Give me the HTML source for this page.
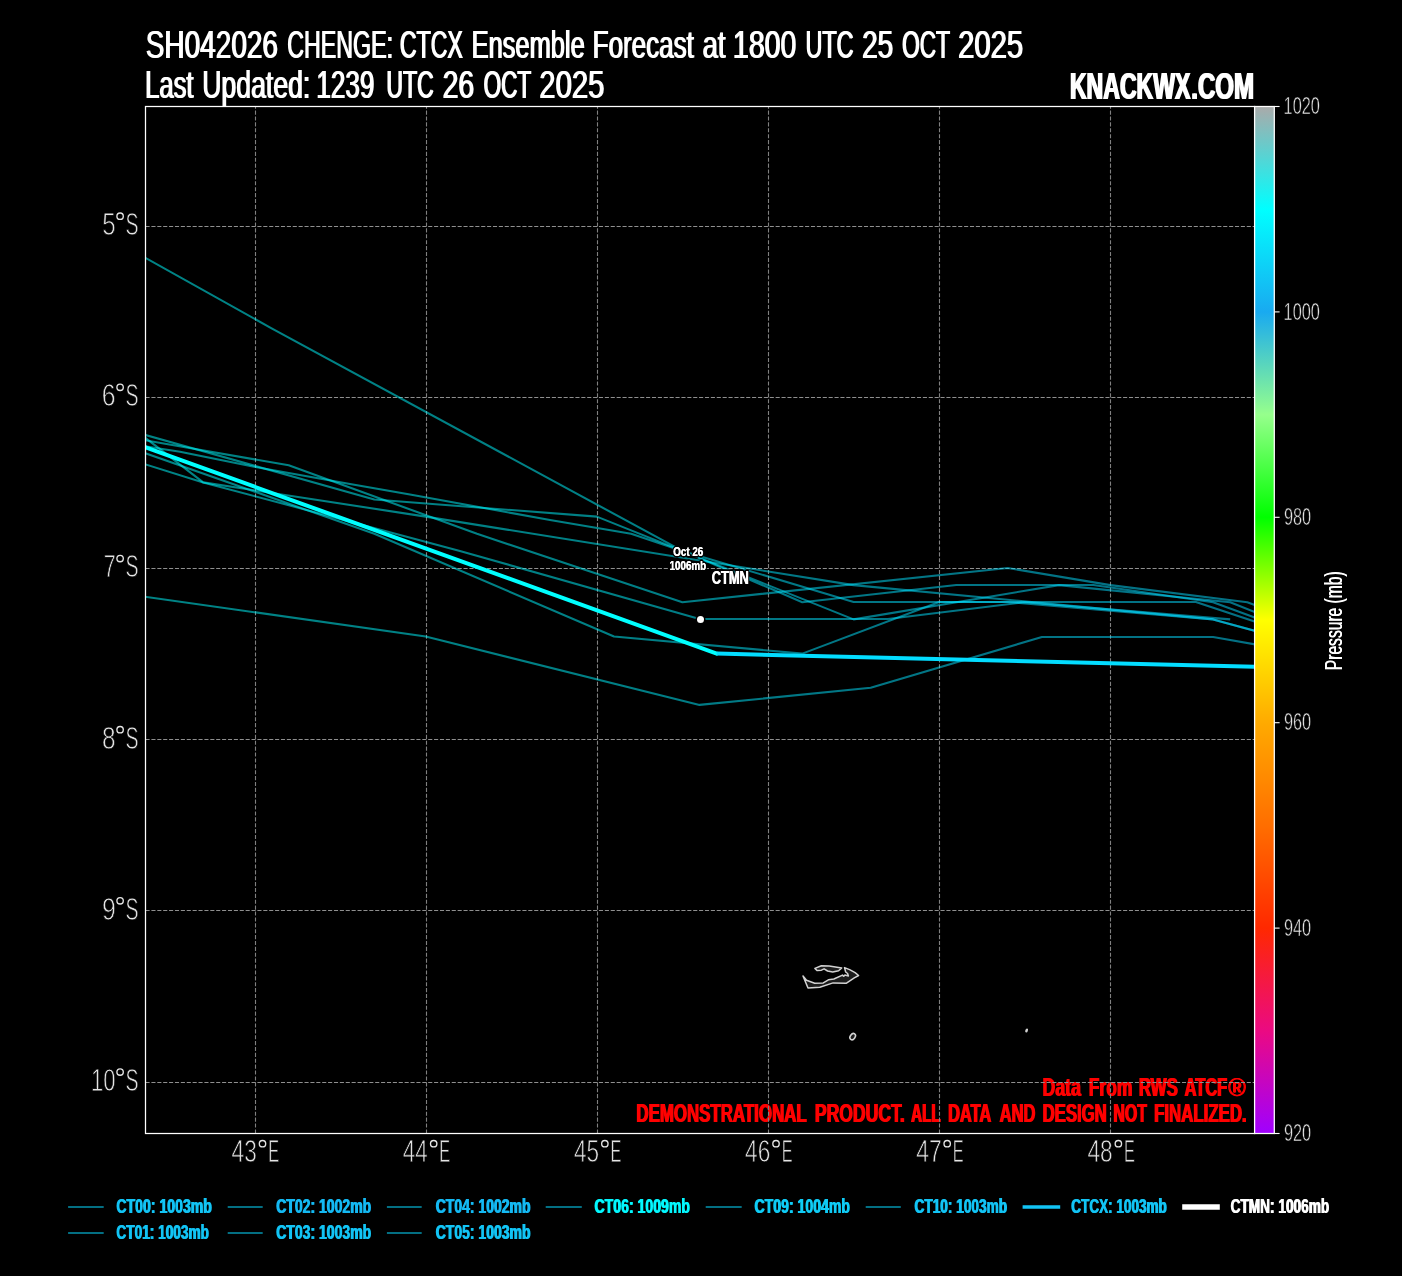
<!DOCTYPE html>
<html><head><meta charset="utf-8"><title>CTCX Ensemble Forecast</title>
<style>html,body{margin:0;padding:0;background:#000;}body{width:1402px;height:1276px;overflow:hidden;font-family:"Liberation Sans",sans-serif;}svg{display:block;will-change:transform;}</style></head>
<body>
<svg width="1402" height="1276" viewBox="0 0 1402 1276" font-family="'Liberation Sans', sans-serif">
<defs>
<clipPath id="pc"><rect x="145.5" y="106.5" width="1109.1" height="1027.0"/></clipPath>
<linearGradient id="cb" x1="0" y1="0" x2="0" y2="1">
<stop offset="0.000" stop-color="#AAAAAA"/>
<stop offset="0.100" stop-color="#00FFFF"/>
<stop offset="0.200" stop-color="#19AAF0"/>
<stop offset="0.300" stop-color="#96FF8C"/>
<stop offset="0.400" stop-color="#00FF00"/>
<stop offset="0.500" stop-color="#FFFF00"/>
<stop offset="0.600" stop-color="#FFAA00"/>
<stop offset="0.700" stop-color="#FF6E00"/>
<stop offset="0.800" stop-color="#FF2800"/>
<stop offset="0.900" stop-color="#EB0A82"/>
<stop offset="1.000" stop-color="#A000FF"/>
</linearGradient>
<linearGradient id="tg" gradientUnits="userSpaceOnUse" x1="145" y1="0" x2="1254" y2="0"><stop offset="0" stop-color="#00fbff"/><stop offset="0.42" stop-color="#00f4ff"/><stop offset="0.58" stop-color="#02e4ff"/><stop offset="1" stop-color="#06d6fd"/></linearGradient>
</defs>
<rect width="1402" height="1276" fill="#000"/>
<g clip-path="url(#pc)">
<polygon points="803.0,975.9 806.5,980.2 814.7,983.3 823.3,982.9 828.4,979.8 833.9,979.0 842.5,975.1 843.7,976.3 844.9,975.1 848.4,975.9 847.6,973.5 845.7,972.0 844.5,967.6 849.6,969.6 855.1,972.7 858.6,975.5 854.3,977.8 846.1,983.3 833.1,982.9 819.8,987.2 808.0,988.0" fill="#1c1c1c" stroke="#d2d2d2" stroke-width="1.5" stroke-linejoin="round"/>
<polygon points="814.9,968.4 821.4,965.7 829.2,966.1 841.7,968.0 838.6,970.8 832.7,972.0 827.6,971.0 824.1,968.8 821.4,970.2 817.0,970.5" fill="#1c1c1c" stroke="#d2d2d2" stroke-width="1.5" stroke-linejoin="round"/>
<ellipse cx="852.7" cy="1036.6" rx="2.4" ry="3.4" transform="rotate(35 852.7 1036.6)" fill="#1c1c1c" stroke="#d2d2d2" stroke-width="1.5"/>
<ellipse cx="1026.6" cy="1030.5" rx="1.3" ry="2.1" transform="rotate(20 1026.6 1030.5)" fill="#d0d0d0"/>
<text x="1041.90" y="1095.80" font-size="25.58" font-weight="bold" fill="#ff0000" textLength="38.41" lengthAdjust="spacingAndGlyphs">Data</text>
<text x="1043.10" y="1095.80" font-size="25.58" font-weight="bold" fill="#ff0000" textLength="38.41" lengthAdjust="spacingAndGlyphs">Data</text>
<text x="1088.17" y="1095.80" font-size="25.58" font-weight="bold" fill="#ff0000" textLength="43.67" lengthAdjust="spacingAndGlyphs">From</text>
<text x="1089.37" y="1095.80" font-size="25.58" font-weight="bold" fill="#ff0000" textLength="43.67" lengthAdjust="spacingAndGlyphs">From</text>
<text x="1138.26" y="1095.80" font-size="25.58" font-weight="bold" fill="#ff0000" textLength="39.01" lengthAdjust="spacingAndGlyphs">RWS</text>
<text x="1139.46" y="1095.80" font-size="25.58" font-weight="bold" fill="#ff0000" textLength="39.01" lengthAdjust="spacingAndGlyphs">RWS</text>
<text x="1184.09" y="1095.80" font-size="25.58" font-weight="bold" fill="#ff0000" textLength="42.51" lengthAdjust="spacingAndGlyphs">ATCF</text>
<text x="1185.29" y="1095.80" font-size="25.58" font-weight="bold" fill="#ff0000" textLength="42.51" lengthAdjust="spacingAndGlyphs">ATCF</text>
<text x="1227.64" y="1095.80" font-size="25.58" font-weight="bold" fill="#ff0000" textLength="17.60" lengthAdjust="spacingAndGlyphs">®</text>
<text x="1228.84" y="1095.80" font-size="25.58" font-weight="bold" fill="#ff0000" textLength="17.60" lengthAdjust="spacingAndGlyphs">®</text>
<text x="635.76" y="1121.85" font-size="25.58" font-weight="bold" fill="#ff0000" textLength="170.38" lengthAdjust="spacingAndGlyphs">DEMONSTRATIONAL</text>
<text x="636.96" y="1121.85" font-size="25.58" font-weight="bold" fill="#ff0000" textLength="170.38" lengthAdjust="spacingAndGlyphs">DEMONSTRATIONAL</text>
<text x="814.21" y="1121.85" font-size="25.58" font-weight="bold" fill="#ff0000" textLength="89.90" lengthAdjust="spacingAndGlyphs">PRODUCT.</text>
<text x="815.41" y="1121.85" font-size="25.58" font-weight="bold" fill="#ff0000" textLength="89.90" lengthAdjust="spacingAndGlyphs">PRODUCT.</text>
<text x="910.52" y="1121.85" font-size="25.58" font-weight="bold" fill="#ff0000" textLength="29.45" lengthAdjust="spacingAndGlyphs">ALL</text>
<text x="911.72" y="1121.85" font-size="25.58" font-weight="bold" fill="#ff0000" textLength="29.45" lengthAdjust="spacingAndGlyphs">ALL</text>
<text x="947.49" y="1121.85" font-size="25.58" font-weight="bold" fill="#ff0000" textLength="43.14" lengthAdjust="spacingAndGlyphs">DATA</text>
<text x="948.69" y="1121.85" font-size="25.58" font-weight="bold" fill="#ff0000" textLength="43.14" lengthAdjust="spacingAndGlyphs">DATA</text>
<text x="998.99" y="1121.85" font-size="25.58" font-weight="bold" fill="#ff0000" textLength="35.90" lengthAdjust="spacingAndGlyphs">AND</text>
<text x="1000.19" y="1121.85" font-size="25.58" font-weight="bold" fill="#ff0000" textLength="35.90" lengthAdjust="spacingAndGlyphs">AND</text>
<text x="1041.97" y="1121.85" font-size="25.58" font-weight="bold" fill="#ff0000" textLength="64.25" lengthAdjust="spacingAndGlyphs">DESIGN</text>
<text x="1043.17" y="1121.85" font-size="25.58" font-weight="bold" fill="#ff0000" textLength="64.25" lengthAdjust="spacingAndGlyphs">DESIGN</text>
<text x="1112.83" y="1121.85" font-size="25.58" font-weight="bold" fill="#ff0000" textLength="33.55" lengthAdjust="spacingAndGlyphs">NOT</text>
<text x="1114.03" y="1121.85" font-size="25.58" font-weight="bold" fill="#ff0000" textLength="33.55" lengthAdjust="spacingAndGlyphs">NOT</text>
<text x="1153.46" y="1121.85" font-size="25.58" font-weight="bold" fill="#ff0000" textLength="92.57" lengthAdjust="spacingAndGlyphs">FINALIZED.</text>
<text x="1154.66" y="1121.85" font-size="25.58" font-weight="bold" fill="#ff0000" textLength="92.57" lengthAdjust="spacingAndGlyphs">FINALIZED.</text>
<line x1="255.5" y1="1133.5" x2="255.5" y2="106.5" stroke="#808080" stroke-width="1.1" stroke-dasharray="4.111 1.778"/>
<line x1="426.5" y1="1133.5" x2="426.5" y2="106.5" stroke="#808080" stroke-width="1.1" stroke-dasharray="4.111 1.778"/>
<line x1="597.5" y1="1133.5" x2="597.5" y2="106.5" stroke="#808080" stroke-width="1.1" stroke-dasharray="4.111 1.778"/>
<line x1="768.5" y1="1133.5" x2="768.5" y2="106.5" stroke="#808080" stroke-width="1.1" stroke-dasharray="4.111 1.778"/>
<line x1="939.5" y1="1133.5" x2="939.5" y2="106.5" stroke="#808080" stroke-width="1.1" stroke-dasharray="4.111 1.778"/>
<line x1="1110.5" y1="1133.5" x2="1110.5" y2="106.5" stroke="#808080" stroke-width="1.1" stroke-dasharray="4.111 1.778"/>
<line x1="145.5" y1="1082.5" x2="1254.6" y2="1082.5" stroke="#8f8f8f" stroke-width="1.1" stroke-dasharray="4.111 1.778"/>
<line x1="145.5" y1="910.5" x2="1254.6" y2="910.5" stroke="#8f8f8f" stroke-width="1.1" stroke-dasharray="4.111 1.778"/>
<line x1="145.5" y1="739.5" x2="1254.6" y2="739.5" stroke="#8f8f8f" stroke-width="1.1" stroke-dasharray="4.111 1.778"/>
<line x1="145.5" y1="568.5" x2="1254.6" y2="568.5" stroke="#8f8f8f" stroke-width="1.1" stroke-dasharray="4.111 1.778"/>
<line x1="145.5" y1="397.5" x2="1254.6" y2="397.5" stroke="#8f8f8f" stroke-width="1.1" stroke-dasharray="4.111 1.778"/>
<line x1="145.5" y1="226.5" x2="1254.6" y2="226.5" stroke="#8f8f8f" stroke-width="1.1" stroke-dasharray="4.111 1.778"/>
<polyline points="100.0,232.4 271.6,328.4 682.4,550.9 802.3,602.2 956.3,585.0 1093.2,585.0 1213.1,602.2 1300.0,634.3" fill="none" stroke="url(#tg)" stroke-opacity="0.52" stroke-width="2.08" stroke-linejoin="round"/>
<polyline points="100.0,422.2 374.3,499.5 596.8,516.6 682.4,550.9 853.6,619.4 1059.0,585.1 1230.2,602.2 1300.0,629.9" fill="none" stroke="url(#tg)" stroke-opacity="0.52" stroke-width="2.08" stroke-linejoin="round"/>
<polyline points="100.0,439.2 180.0,451.7 255.3,467.0 350.0,484.1 410.0,494.5 550.0,520.0 631.1,533.8 682.4,550.9 853.6,602.0 1195.9,602.0 1300.0,636.4" fill="none" stroke="url(#tg)" stroke-opacity="0.52" stroke-width="2.08" stroke-linejoin="round"/>
<polyline points="100.0,432.4 288.7,465.3 477.0,533.8 682.4,602.2 1007.7,568.0 1110.4,585.1 1247.3,602.2 1300.0,622.2" fill="none" stroke="url(#tg)" stroke-opacity="0.52" stroke-width="2.08" stroke-linejoin="round"/>
<polyline points="100.0,403.0 203.2,482.4 425.7,516.6 853.6,585.1 1213.1,619.4 1300.0,643.3" fill="none" stroke="url(#tg)" stroke-opacity="0.52" stroke-width="2.08" stroke-linejoin="round"/>
<polyline points="100.0,450.2 203.2,482.4 459.9,550.9 699.5,619.0 887.8,619.0 1024.8,602.2 1230.2,619.4" fill="none" stroke="url(#tg)" stroke-opacity="0.52" stroke-width="2.08" stroke-linejoin="round"/>
<polyline points="100.0,437.2 374.3,533.8 614.0,636.5 802.3,653.6 939.2,602.0 1007.7,602.0 1213.1,619.4 1300.0,643.3" fill="none" stroke="url(#tg)" stroke-opacity="0.52" stroke-width="2.08" stroke-linejoin="round"/>
<polyline points="100.0,590.3 425.7,636.5 699.5,704.9 870.7,687.8 1041.9,637.0 1213.1,637.0 1300.0,652.2" fill="none" stroke="url(#tg)" stroke-opacity="0.52" stroke-width="2.08" stroke-linejoin="round"/>
<polyline points="100,430.9 716.7,653.6" fill="none" stroke="#00ffff" stroke-width="4.0" stroke-linecap="round"/>
<polyline points="716.7,653.6 1300,667.8" fill="none" stroke="#03dcff" stroke-width="4.0" stroke-linecap="butt"/>
<circle cx="700.5" cy="619.5" r="5" fill="#000"/>
<circle cx="700.5" cy="619.5" r="3.5" fill="#fff"/>
</g>
<text x="673.11" y="556.10" font-size="12.35" font-weight="bold" fill="none" stroke="#000" stroke-width="3.00" stroke-linejoin="round" textLength="29.96" lengthAdjust="spacingAndGlyphs">Oct 26</text>
<text x="673.51" y="556.10" font-size="12.35" font-weight="bold" fill="none" stroke="#000" stroke-width="3.00" stroke-linejoin="round" textLength="29.96" lengthAdjust="spacingAndGlyphs">Oct 26</text>
<text x="673.11" y="556.10" font-size="12.35" font-weight="bold" fill="#fff" textLength="29.96" lengthAdjust="spacingAndGlyphs">Oct 26</text>
<text x="673.51" y="556.10" font-size="12.35" font-weight="bold" fill="#fff" textLength="29.96" lengthAdjust="spacingAndGlyphs">Oct 26</text>
<text x="669.39" y="569.70" font-size="12.50" font-weight="bold" fill="none" stroke="#000" stroke-width="3.00" stroke-linejoin="round" textLength="36.50" lengthAdjust="spacingAndGlyphs">1006mb</text>
<text x="669.79" y="569.70" font-size="12.50" font-weight="bold" fill="none" stroke="#000" stroke-width="3.00" stroke-linejoin="round" textLength="36.50" lengthAdjust="spacingAndGlyphs">1006mb</text>
<text x="669.39" y="569.70" font-size="12.50" font-weight="bold" fill="#fff" textLength="36.50" lengthAdjust="spacingAndGlyphs">1006mb</text>
<text x="669.79" y="569.70" font-size="12.50" font-weight="bold" fill="#fff" textLength="36.50" lengthAdjust="spacingAndGlyphs">1006mb</text>
<text x="711.38" y="583.90" font-size="18.17" font-weight="bold" fill="none" stroke="#000" stroke-width="3.00" stroke-linejoin="round" textLength="37.19" lengthAdjust="spacingAndGlyphs">CTMN</text>
<text x="711.98" y="583.90" font-size="18.17" font-weight="bold" fill="none" stroke="#000" stroke-width="3.00" stroke-linejoin="round" textLength="37.19" lengthAdjust="spacingAndGlyphs">CTMN</text>
<text x="711.38" y="583.90" font-size="18.17" font-weight="bold" fill="#fff" textLength="37.19" lengthAdjust="spacingAndGlyphs">CTMN</text>
<text x="711.98" y="583.90" font-size="18.17" font-weight="bold" fill="#fff" textLength="37.19" lengthAdjust="spacingAndGlyphs">CTMN</text>
<rect x="145.5" y="106.5" width="1109.1" height="1027.0" fill="none" stroke="#fff" stroke-width="1.25"/>
<rect x="1254.6" y="106.5" width="19.7" height="1027.0" fill="url(#cb)" stroke="#fff" stroke-width="1.25"/>
<line x1="1274.3" y1="106.5" x2="1279.6" y2="106.5" stroke="#fff" stroke-width="1.1"/>
<text x="1283.53" y="114.18" font-size="24.42" font-weight="normal" fill="#e4e4e4" textLength="36.45" lengthAdjust="spacingAndGlyphs" stroke="#000" stroke-width="0.55">1020</text>
<line x1="1274.3" y1="311.9" x2="1279.6" y2="311.9" stroke="#fff" stroke-width="1.1"/>
<text x="1283.53" y="319.57" font-size="24.42" font-weight="normal" fill="#e4e4e4" textLength="36.45" lengthAdjust="spacingAndGlyphs" stroke="#000" stroke-width="0.55">1000</text>
<line x1="1274.3" y1="517.3" x2="1279.6" y2="517.3" stroke="#fff" stroke-width="1.1"/>
<text x="1283.99" y="524.97" font-size="24.42" font-weight="normal" fill="#e4e4e4" textLength="27.18" lengthAdjust="spacingAndGlyphs" stroke="#000" stroke-width="0.55">980</text>
<line x1="1274.3" y1="722.7" x2="1279.6" y2="722.7" stroke="#fff" stroke-width="1.1"/>
<text x="1283.99" y="730.38" font-size="24.42" font-weight="normal" fill="#e4e4e4" textLength="27.18" lengthAdjust="spacingAndGlyphs" stroke="#000" stroke-width="0.55">960</text>
<line x1="1274.3" y1="928.1" x2="1279.6" y2="928.1" stroke="#fff" stroke-width="1.1"/>
<text x="1283.99" y="935.77" font-size="24.42" font-weight="normal" fill="#e4e4e4" textLength="27.18" lengthAdjust="spacingAndGlyphs" stroke="#000" stroke-width="0.55">940</text>
<line x1="1274.3" y1="1133.5" x2="1279.6" y2="1133.5" stroke="#fff" stroke-width="1.1"/>
<text x="1283.99" y="1141.18" font-size="24.42" font-weight="normal" fill="#e4e4e4" textLength="27.18" lengthAdjust="spacingAndGlyphs" stroke="#000" stroke-width="0.55">920</text>
<text x="90.95" y="1090.91" font-size="31.90" font-weight="normal" fill="#e4e4e4" textLength="24.53" lengthAdjust="spacingAndGlyphs" stroke="#000" stroke-width="0.80">10</text>
<circle cx="120.10" cy="1072.01" r="3.2" fill="none" stroke="#e4e4e4" stroke-width="1.35"/>
<text x="125.52" y="1090.91" font-size="31.90" font-weight="normal" fill="#e4e4e4" textLength="13.05" lengthAdjust="spacingAndGlyphs" stroke="#000" stroke-width="0.80">S</text>
<text x="101.92" y="919.74" font-size="31.90" font-weight="normal" fill="#e4e4e4" textLength="13.83" lengthAdjust="spacingAndGlyphs" stroke="#000" stroke-width="0.80">9</text>
<circle cx="120.10" cy="900.84" r="3.2" fill="none" stroke="#e4e4e4" stroke-width="1.35"/>
<text x="125.52" y="919.74" font-size="31.90" font-weight="normal" fill="#e4e4e4" textLength="13.05" lengthAdjust="spacingAndGlyphs" stroke="#000" stroke-width="0.80">S</text>
<text x="102.06" y="748.57" font-size="31.90" font-weight="normal" fill="#e4e4e4" textLength="13.61" lengthAdjust="spacingAndGlyphs" stroke="#000" stroke-width="0.80">8</text>
<circle cx="120.10" cy="729.67" r="3.2" fill="none" stroke="#e4e4e4" stroke-width="1.35"/>
<text x="125.52" y="748.57" font-size="31.90" font-weight="normal" fill="#e4e4e4" textLength="13.05" lengthAdjust="spacingAndGlyphs" stroke="#000" stroke-width="0.80">S</text>
<text x="103.72" y="577.40" font-size="31.90" font-weight="normal" fill="#e4e4e4" textLength="11.98" lengthAdjust="spacingAndGlyphs" stroke="#000" stroke-width="0.80">7</text>
<circle cx="120.10" cy="558.50" r="3.2" fill="none" stroke="#e4e4e4" stroke-width="1.35"/>
<text x="125.52" y="577.40" font-size="31.90" font-weight="normal" fill="#e4e4e4" textLength="13.05" lengthAdjust="spacingAndGlyphs" stroke="#000" stroke-width="0.80">S</text>
<text x="101.86" y="406.23" font-size="31.90" font-weight="normal" fill="#e4e4e4" textLength="13.83" lengthAdjust="spacingAndGlyphs" stroke="#000" stroke-width="0.80">6</text>
<circle cx="120.10" cy="387.33" r="3.2" fill="none" stroke="#e4e4e4" stroke-width="1.35"/>
<text x="125.52" y="406.23" font-size="31.90" font-weight="normal" fill="#e4e4e4" textLength="13.05" lengthAdjust="spacingAndGlyphs" stroke="#000" stroke-width="0.80">S</text>
<text x="102.13" y="235.06" font-size="31.90" font-weight="normal" fill="#e4e4e4" textLength="13.47" lengthAdjust="spacingAndGlyphs" stroke="#000" stroke-width="0.80">5</text>
<circle cx="120.10" cy="216.16" r="3.2" fill="none" stroke="#e4e4e4" stroke-width="1.35"/>
<text x="125.52" y="235.06" font-size="31.90" font-weight="normal" fill="#e4e4e4" textLength="13.05" lengthAdjust="spacingAndGlyphs" stroke="#000" stroke-width="0.80">S</text>
<text x="231.60" y="1162.40" font-size="31.90" font-weight="normal" fill="#e4e4e4" textLength="25.23" lengthAdjust="spacingAndGlyphs" stroke="#000" stroke-width="0.80">43</text>
<circle cx="262.51" cy="1143.70" r="3.2" fill="none" stroke="#e4e4e4" stroke-width="1.35"/>
<text x="268.17" y="1162.40" font-size="31.90" font-weight="normal" fill="#e4e4e4" textLength="10.82" lengthAdjust="spacingAndGlyphs" stroke="#000" stroke-width="0.80">E</text>
<text x="402.77" y="1162.40" font-size="31.90" font-weight="normal" fill="#e4e4e4" textLength="24.87" lengthAdjust="spacingAndGlyphs" stroke="#000" stroke-width="0.80">44</text>
<circle cx="433.68" cy="1143.70" r="3.2" fill="none" stroke="#e4e4e4" stroke-width="1.35"/>
<text x="439.34" y="1162.40" font-size="31.90" font-weight="normal" fill="#e4e4e4" textLength="10.82" lengthAdjust="spacingAndGlyphs" stroke="#000" stroke-width="0.80">E</text>
<text x="573.94" y="1162.40" font-size="31.90" font-weight="normal" fill="#e4e4e4" textLength="25.17" lengthAdjust="spacingAndGlyphs" stroke="#000" stroke-width="0.80">45</text>
<circle cx="604.85" cy="1143.70" r="3.2" fill="none" stroke="#e4e4e4" stroke-width="1.35"/>
<text x="610.51" y="1162.40" font-size="31.90" font-weight="normal" fill="#e4e4e4" textLength="10.82" lengthAdjust="spacingAndGlyphs" stroke="#000" stroke-width="0.80">E</text>
<text x="745.11" y="1162.40" font-size="31.90" font-weight="normal" fill="#e4e4e4" textLength="25.23" lengthAdjust="spacingAndGlyphs" stroke="#000" stroke-width="0.80">46</text>
<circle cx="776.02" cy="1143.70" r="3.2" fill="none" stroke="#e4e4e4" stroke-width="1.35"/>
<text x="781.68" y="1162.40" font-size="31.90" font-weight="normal" fill="#e4e4e4" textLength="10.82" lengthAdjust="spacingAndGlyphs" stroke="#000" stroke-width="0.80">E</text>
<text x="916.27" y="1162.40" font-size="31.90" font-weight="normal" fill="#e4e4e4" textLength="25.41" lengthAdjust="spacingAndGlyphs" stroke="#000" stroke-width="0.80">47</text>
<circle cx="947.19" cy="1143.70" r="3.2" fill="none" stroke="#e4e4e4" stroke-width="1.35"/>
<text x="952.85" y="1162.40" font-size="31.90" font-weight="normal" fill="#e4e4e4" textLength="10.82" lengthAdjust="spacingAndGlyphs" stroke="#000" stroke-width="0.80">E</text>
<text x="1087.45" y="1162.40" font-size="31.90" font-weight="normal" fill="#e4e4e4" textLength="25.23" lengthAdjust="spacingAndGlyphs" stroke="#000" stroke-width="0.80">48</text>
<circle cx="1118.36" cy="1143.70" r="3.2" fill="none" stroke="#e4e4e4" stroke-width="1.35"/>
<text x="1124.02" y="1162.40" font-size="31.90" font-weight="normal" fill="#e4e4e4" textLength="10.82" lengthAdjust="spacingAndGlyphs" stroke="#000" stroke-width="0.80">E</text>
<text x="145.14" y="57.60" font-size="39.24" font-weight="normal" fill="#fff" textLength="132.28" lengthAdjust="spacingAndGlyphs">SH042026</text>
<text x="146.34" y="57.60" font-size="39.24" font-weight="normal" fill="#fff" textLength="132.28" lengthAdjust="spacingAndGlyphs">SH042026</text>
<text x="286.64" y="57.60" font-size="39.24" font-weight="normal" fill="#fff" textLength="105.78" lengthAdjust="spacingAndGlyphs">CHENGE:</text>
<text x="287.84" y="57.60" font-size="39.24" font-weight="normal" fill="#fff" textLength="105.78" lengthAdjust="spacingAndGlyphs">CHENGE:</text>
<text x="399.34" y="57.60" font-size="39.24" font-weight="normal" fill="#fff" textLength="62.97" lengthAdjust="spacingAndGlyphs">CTCX</text>
<text x="400.54" y="57.60" font-size="39.24" font-weight="normal" fill="#fff" textLength="62.97" lengthAdjust="spacingAndGlyphs">CTCX</text>
<text x="471.00" y="57.60" font-size="39.24" font-weight="normal" fill="#fff" textLength="113.13" lengthAdjust="spacingAndGlyphs">Ensemble</text>
<text x="472.20" y="57.60" font-size="39.24" font-weight="normal" fill="#fff" textLength="113.13" lengthAdjust="spacingAndGlyphs">Ensemble</text>
<text x="592.05" y="57.60" font-size="39.24" font-weight="normal" fill="#fff" textLength="101.25" lengthAdjust="spacingAndGlyphs">Forecast</text>
<text x="593.25" y="57.60" font-size="39.24" font-weight="normal" fill="#fff" textLength="101.25" lengthAdjust="spacingAndGlyphs">Forecast</text>
<text x="701.93" y="57.60" font-size="39.24" font-weight="normal" fill="#fff" textLength="22.92" lengthAdjust="spacingAndGlyphs">at</text>
<text x="703.13" y="57.60" font-size="39.24" font-weight="normal" fill="#fff" textLength="22.92" lengthAdjust="spacingAndGlyphs">at</text>
<text x="732.36" y="57.60" font-size="39.24" font-weight="normal" fill="#fff" textLength="63.37" lengthAdjust="spacingAndGlyphs">1800</text>
<text x="733.56" y="57.60" font-size="39.24" font-weight="normal" fill="#fff" textLength="63.37" lengthAdjust="spacingAndGlyphs">1800</text>
<text x="804.88" y="57.60" font-size="39.24" font-weight="normal" fill="#fff" textLength="48.16" lengthAdjust="spacingAndGlyphs">UTC</text>
<text x="806.08" y="57.60" font-size="39.24" font-weight="normal" fill="#fff" textLength="48.16" lengthAdjust="spacingAndGlyphs">UTC</text>
<text x="861.50" y="57.60" font-size="39.24" font-weight="normal" fill="#fff" textLength="31.19" lengthAdjust="spacingAndGlyphs">25</text>
<text x="862.70" y="57.60" font-size="39.24" font-weight="normal" fill="#fff" textLength="31.19" lengthAdjust="spacingAndGlyphs">25</text>
<text x="901.52" y="57.60" font-size="39.24" font-weight="normal" fill="#fff" textLength="47.81" lengthAdjust="spacingAndGlyphs">OCT</text>
<text x="902.72" y="57.60" font-size="39.24" font-weight="normal" fill="#fff" textLength="47.81" lengthAdjust="spacingAndGlyphs">OCT</text>
<text x="957.43" y="57.60" font-size="39.24" font-weight="normal" fill="#fff" textLength="65.20" lengthAdjust="spacingAndGlyphs">2025</text>
<text x="958.63" y="57.60" font-size="39.24" font-weight="normal" fill="#fff" textLength="65.20" lengthAdjust="spacingAndGlyphs">2025</text>
<text x="144.59" y="97.70" font-size="39.53" font-weight="normal" fill="#fff" textLength="48.41" lengthAdjust="spacingAndGlyphs">Last</text>
<text x="145.79" y="97.70" font-size="39.53" font-weight="normal" fill="#fff" textLength="48.41" lengthAdjust="spacingAndGlyphs">Last</text>
<text x="201.64" y="97.70" font-size="39.53" font-weight="normal" fill="#fff" textLength="108.09" lengthAdjust="spacingAndGlyphs">Updated:</text>
<text x="202.84" y="97.70" font-size="39.53" font-weight="normal" fill="#fff" textLength="108.09" lengthAdjust="spacingAndGlyphs">Updated:</text>
<text x="315.75" y="97.70" font-size="39.53" font-weight="normal" fill="#fff" textLength="57.98" lengthAdjust="spacingAndGlyphs">1239</text>
<text x="316.95" y="97.70" font-size="39.53" font-weight="normal" fill="#fff" textLength="57.98" lengthAdjust="spacingAndGlyphs">1239</text>
<text x="385.82" y="97.70" font-size="39.53" font-weight="normal" fill="#fff" textLength="47.31" lengthAdjust="spacingAndGlyphs">UTC</text>
<text x="387.02" y="97.70" font-size="39.53" font-weight="normal" fill="#fff" textLength="47.31" lengthAdjust="spacingAndGlyphs">UTC</text>
<text x="441.97" y="97.70" font-size="39.53" font-weight="normal" fill="#fff" textLength="31.70" lengthAdjust="spacingAndGlyphs">26</text>
<text x="443.17" y="97.70" font-size="39.53" font-weight="normal" fill="#fff" textLength="31.70" lengthAdjust="spacingAndGlyphs">26</text>
<text x="482.93" y="97.70" font-size="39.53" font-weight="normal" fill="#fff" textLength="47.60" lengthAdjust="spacingAndGlyphs">OCT</text>
<text x="484.13" y="97.70" font-size="39.53" font-weight="normal" fill="#fff" textLength="47.60" lengthAdjust="spacingAndGlyphs">OCT</text>
<text x="538.63" y="97.70" font-size="39.53" font-weight="normal" fill="#fff" textLength="65.20" lengthAdjust="spacingAndGlyphs">2025</text>
<text x="539.83" y="97.70" font-size="39.53" font-weight="normal" fill="#fff" textLength="65.20" lengthAdjust="spacingAndGlyphs">2025</text>
<text x="1069.14" y="98.90" font-size="36.34" font-weight="bold" fill="#fff" textLength="120.57" lengthAdjust="spacingAndGlyphs">KNACKWX</text>
<text x="1070.64" y="98.90" font-size="36.34" font-weight="bold" fill="#fff" textLength="120.57" lengthAdjust="spacingAndGlyphs">KNACKWX</text>
<text x="1190.48" y="98.90" font-size="36.34" font-weight="bold" fill="#fff" textLength="62.77" lengthAdjust="spacingAndGlyphs">.COM</text>
<text x="1191.98" y="98.90" font-size="36.34" font-weight="bold" fill="#fff" textLength="62.77" lengthAdjust="spacingAndGlyphs">.COM</text>
<g transform="translate(1342.1 620.6) rotate(-90)">
<text x="-49.89" y="0.00" font-size="24.42" font-weight="normal" fill="#fff" textLength="98.96" lengthAdjust="spacingAndGlyphs">Pressure (mb)</text>
<text x="-49.39" y="0.00" font-size="24.42" font-weight="normal" fill="#fff" textLength="98.96" lengthAdjust="spacingAndGlyphs">Pressure (mb)</text>
</g>
<line x1="68.1" y1="1207.0" x2="103.7" y2="1207.0" stroke="#06d4fc" stroke-opacity="0.52" stroke-width="2.0"/>
<text x="115.94" y="1213.00" font-size="19.91" font-weight="bold" fill="#12c4f5" textLength="95.54" lengthAdjust="spacingAndGlyphs">CT00: 1003mb</text>
<text x="116.84" y="1213.00" font-size="19.91" font-weight="bold" fill="#12c4f5" textLength="95.54" lengthAdjust="spacingAndGlyphs">CT00: 1003mb</text>
<line x1="68.1" y1="1233.0" x2="103.7" y2="1233.0" stroke="#06d4fc" stroke-opacity="0.52" stroke-width="2.0"/>
<text x="115.95" y="1238.80" font-size="19.91" font-weight="bold" fill="#12c4f5" textLength="92.61" lengthAdjust="spacingAndGlyphs">CT01: 1003mb</text>
<text x="116.85" y="1238.80" font-size="19.91" font-weight="bold" fill="#12c4f5" textLength="92.61" lengthAdjust="spacingAndGlyphs">CT01: 1003mb</text>
<line x1="227.7" y1="1207.0" x2="262.7" y2="1207.0" stroke="#06d4fc" stroke-opacity="0.52" stroke-width="2.0"/>
<text x="275.74" y="1213.00" font-size="19.91" font-weight="bold" fill="#14b9f3" textLength="95.03" lengthAdjust="spacingAndGlyphs">CT02: 1002mb</text>
<text x="276.64" y="1213.00" font-size="19.91" font-weight="bold" fill="#14b9f3" textLength="95.03" lengthAdjust="spacingAndGlyphs">CT02: 1002mb</text>
<line x1="227.7" y1="1233.0" x2="262.7" y2="1233.0" stroke="#06d4fc" stroke-opacity="0.52" stroke-width="2.0"/>
<text x="275.74" y="1238.80" font-size="19.91" font-weight="bold" fill="#12c4f5" textLength="95.03" lengthAdjust="spacingAndGlyphs">CT03: 1003mb</text>
<text x="276.64" y="1238.80" font-size="19.91" font-weight="bold" fill="#12c4f5" textLength="95.03" lengthAdjust="spacingAndGlyphs">CT03: 1003mb</text>
<line x1="386.9" y1="1207.0" x2="421.7" y2="1207.0" stroke="#06d4fc" stroke-opacity="0.52" stroke-width="2.0"/>
<text x="435.24" y="1213.00" font-size="19.91" font-weight="bold" fill="#14b9f3" textLength="94.83" lengthAdjust="spacingAndGlyphs">CT04: 1002mb</text>
<text x="436.14" y="1213.00" font-size="19.91" font-weight="bold" fill="#14b9f3" textLength="94.83" lengthAdjust="spacingAndGlyphs">CT04: 1002mb</text>
<line x1="386.9" y1="1233.0" x2="421.7" y2="1233.0" stroke="#06d4fc" stroke-opacity="0.52" stroke-width="2.0"/>
<text x="435.24" y="1238.80" font-size="19.91" font-weight="bold" fill="#12c4f5" textLength="94.83" lengthAdjust="spacingAndGlyphs">CT05: 1003mb</text>
<text x="436.14" y="1238.80" font-size="19.91" font-weight="bold" fill="#12c4f5" textLength="94.83" lengthAdjust="spacingAndGlyphs">CT05: 1003mb</text>
<line x1="545.7" y1="1207.0" x2="581.8" y2="1207.0" stroke="#06d4fc" stroke-opacity="0.52" stroke-width="2.0"/>
<text x="594.04" y="1213.00" font-size="19.91" font-weight="bold" fill="#03f7fe" textLength="95.54" lengthAdjust="spacingAndGlyphs">CT06: 1009mb</text>
<text x="594.94" y="1213.00" font-size="19.91" font-weight="bold" fill="#03f7fe" textLength="95.54" lengthAdjust="spacingAndGlyphs">CT06: 1009mb</text>
<line x1="705.7" y1="1207.0" x2="741.7" y2="1207.0" stroke="#06d4fc" stroke-opacity="0.52" stroke-width="2.0"/>
<text x="754.04" y="1213.00" font-size="19.91" font-weight="bold" fill="#0fccf6" textLength="95.54" lengthAdjust="spacingAndGlyphs">CT09: 1004mb</text>
<text x="754.94" y="1213.00" font-size="19.91" font-weight="bold" fill="#0fccf6" textLength="95.54" lengthAdjust="spacingAndGlyphs">CT09: 1004mb</text>
<line x1="865.7" y1="1207.0" x2="900.8" y2="1207.0" stroke="#06d4fc" stroke-opacity="0.52" stroke-width="2.0"/>
<text x="914.05" y="1213.00" font-size="19.91" font-weight="bold" fill="#12c4f5" textLength="92.61" lengthAdjust="spacingAndGlyphs">CT10: 1003mb</text>
<text x="914.95" y="1213.00" font-size="19.91" font-weight="bold" fill="#12c4f5" textLength="92.61" lengthAdjust="spacingAndGlyphs">CT10: 1003mb</text>
<line x1="1022.6" y1="1207.0" x2="1060.2" y2="1207.0" stroke="#12c4f5" stroke-opacity="1.00" stroke-width="3.6"/>
<text x="1070.86" y="1213.00" font-size="19.91" font-weight="bold" fill="#12c4f5" textLength="95.49" lengthAdjust="spacingAndGlyphs">CTCX: 1003mb</text>
<text x="1071.76" y="1213.00" font-size="19.91" font-weight="bold" fill="#12c4f5" textLength="95.49" lengthAdjust="spacingAndGlyphs">CTCX: 1003mb</text>
<line x1="1182.2" y1="1207.0" x2="1219.8" y2="1207.0" stroke="#ffffff" stroke-opacity="1.00" stroke-width="5.3"/>
<text x="1230.15" y="1213.00" font-size="19.91" font-weight="bold" fill="#ffffff" textLength="98.61" lengthAdjust="spacingAndGlyphs">CTMN: 1006mb</text>
<text x="1231.05" y="1213.00" font-size="19.91" font-weight="bold" fill="#ffffff" textLength="98.61" lengthAdjust="spacingAndGlyphs">CTMN: 1006mb</text>
</svg>
</body></html>
